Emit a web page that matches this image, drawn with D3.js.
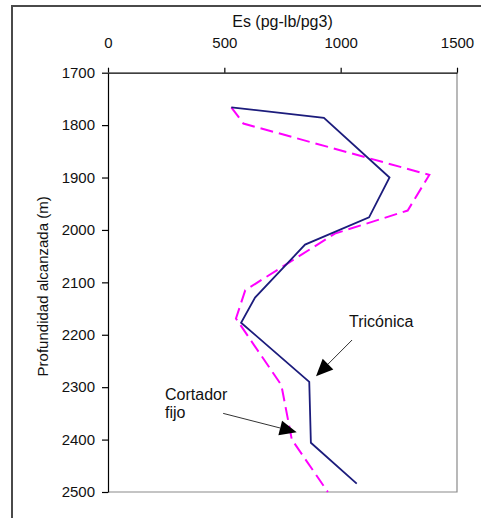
<!DOCTYPE html>
<html>
<head>
<meta charset="utf-8">
<script src="https://cdn.jsdelivr.net/npm/d3@7"></script>
<style>
  html, body { margin: 0; padding: 0; background: #fff; }
  svg { display: block; }
  text { font-family: "Liberation Sans", Arial, sans-serif; fill: #111; }
</style>
</head>
<body>
<svg id="chart" width="481" height="518"></svg>
<script>
// ---- data ----
const xTicks = [0, 500, 1000, 1500];
const yTicks = [1700, 1800, 1900, 2000, 2100, 2200, 2300, 2400, 2500];
const xTitle = "Es (pg-lb/pg3)";
const yTitle = "Profundidad alcanzada (m)";

// Tricónica (solid)
const triconicaEs    = [530, 928, 1210, 1122, 847, 632, 572, 865, 872, 1069];
const triconicaDepth = [1766, 1786, 1900, 1976, 2028, 2129, 2177, 2290, 2406, 2484];

// Cortador fijo (dashed)
const cortadorEs    = [530, 582, 1381, 1288, 975, 590, 550, 745, 790, 945];
const cortadorDepth = [1766, 1797, 1895, 1963, 2007, 2115, 2169, 2296, 2400, 2500];

// annotations (data coordinates): label anchor, arrow start, arrow tip
const annLabels = [["Tricónica"], ["Cortador", "fijo"]];
const annTextEs    = [1036, 245];
const annTextDepth = [2185, 2325];
const annFromEs    = [1049, 495];
const annFromDepth = [2210, 2350];
const annTipEs     = [894, 811];
const annTipDepth  = [2279, 2386];

// ---- drawing ----
const svg = d3.select("#chart");
const x = d3.scaleLinear().domain([0, 1500]).range([108, 457]);
const y = d3.scaleLinear().domain([1700, 2500]).range([72.7, 492]);

// outer frame (left + top)
svg.append("path")
  .attr("d", "M12,518 L12,6 L481,6")
  .attr("fill", "none").attr("stroke", "#4a4a4a").attr("stroke-width", 2);

// plot border right & bottom (gray)
svg.append("path")
  .attr("d", `M${x(0)},${y(2500)} L${x(1500)},${y(2500)} L${x(1500)},${y(1700)}`)
  .attr("fill", "none").attr("stroke", "#8a8a8a").attr("stroke-width", 1.2);

// top axis
const gx = svg.append("g").attr("transform", `translate(0,${y(1700)})`)
  .call(d3.axisTop(x).tickValues(xTicks).tickSize(5).tickPadding(20).tickSizeOuter(0).tickFormat(d3.format("d")));
gx.select(".domain").attr("stroke", "#000").attr("stroke-width", 1.2);
gx.selectAll(".tick line").attr("stroke", "#000").attr("stroke-width", 1.2);
gx.selectAll(".tick text").attr("font-size", 15).attr("font-family", "Liberation Sans, Arial, sans-serif").attr("fill", "#111");

// left axis
const gy = svg.append("g").attr("transform", `translate(${x(0)},0)`)
  .call(d3.axisLeft(y).tickValues(yTicks).tickSize(6).tickPadding(7).tickFormat(d3.format("d")).tickSizeOuter(0));
gy.select(".domain").attr("stroke", "#000").attr("stroke-width", 1.2);
gy.selectAll(".tick line").attr("stroke", "#000").attr("stroke-width", 1.2);
gy.selectAll(".tick text").attr("font-size", 15).attr("font-family", "Liberation Sans, Arial, sans-serif").attr("fill", "#111");

// titles
svg.append("text").attr("x", (x(0) + x(1500)) / 2).attr("y", 27)
  .attr("text-anchor", "middle").attr("font-size", 16).text(xTitle);
svg.append("text").attr("transform", `translate(48,${(y(1700)+y(2500))/2 + 4}) rotate(-90)`)
  .attr("text-anchor", "middle").attr("font-size", 15).text(yTitle);

// series
const line = d3.line().x(d => x(d[0])).y(d => y(d[1]));
const triData = d3.zip(triconicaEs, triconicaDepth);
const corData = d3.zip(cortadorEs, cortadorDepth);

svg.append("path").datum(corData).attr("d", line)
  .attr("fill", "none").attr("stroke", "#ff00ff").attr("stroke-width", 2)
  .attr("stroke-dasharray", "13,6").attr("stroke-linejoin", "miter");
svg.append("path").datum(triData).attr("d", line)
  .attr("fill", "none").attr("stroke", "#1c1c7c").attr("stroke-width", 1.8)
  .attr("stroke-linejoin", "miter");

// annotations
annLabels.forEach((lines, i) => {
  const t = svg.append("text").attr("x", x(annTextEs[i])).attr("y", y(annTextDepth[i]))
    .attr("font-size", 16);
  lines.forEach((s, j) => {
    t.append("tspan").attr("x", x(annTextEs[i])).attr("dy", j === 0 ? 0 : 18).text(s);
  });
  const x0 = x(annFromEs[i]), y0 = y(annFromDepth[i]);
  const x1 = x(annTipEs[i]), y1 = y(annTipDepth[i]);
  const ang = Math.atan2(y1 - y0, x1 - x0);
  const hl = 17, hw = 7.5;
  const bx = x1 - hl * Math.cos(ang), by = y1 - hl * Math.sin(ang);
  svg.append("line").attr("x1", x0).attr("y1", y0).attr("x2", bx).attr("y2", by)
    .attr("stroke", "#333").attr("stroke-width", 1);
  const px = -Math.sin(ang), py = Math.cos(ang);
  svg.append("path")
    .attr("d", `M${x1},${y1} L${bx + hw*px},${by + hw*py} L${bx - hw*px},${by - hw*py} Z`)
    .attr("fill", "#000");
});
</script>
</body>
</html>
